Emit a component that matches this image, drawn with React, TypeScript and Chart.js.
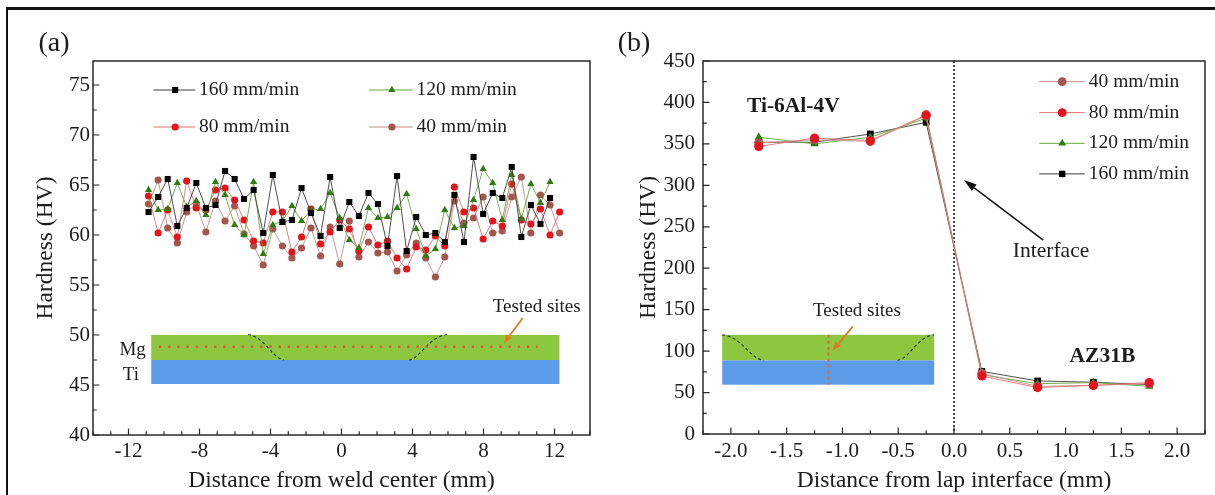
import React, { useEffect, useRef } from 'react';
import { Chart, registerables } from 'chart.js';
Chart.register(...registerables);

const FONT = "'Liberation Serif', 'Times New Roman', Times, serif";
const INK = '#1c1c1c';

// ---------- Panel (a): hardness along the weld ----------
const weldX = [-10.87, -10.33, -9.79, -9.25, -8.72, -8.18, -7.64, -7.10, -6.56, -6.02, -5.49, -4.95, -4.41, -3.87, -3.33, -2.79, -2.25, -1.72, -1.18, -0.64, -0.10, 0.44, 0.98, 1.52, 2.05, 2.59, 3.13, 3.67, 4.21, 4.75, 5.29, 5.82, 6.36, 6.90, 7.44, 7.98, 8.52, 9.06, 9.59, 10.13, 10.67, 11.21, 11.75, 12.29];
const hv160 = [62.3, 63.8, 65.6, 60.9, 62.7, 65.2, 62.7, 63.0, 66.4, 65.6, 63.6, 64.5, 60.2, 66.0, 61.3, 61.5, 64.7, 62.2, 59.9, 65.8, 60.7, 63.3, 61.9, 64.2, 63.1, 58.9, 65.9, 58.4, 61.8, 60.0, 60.2, 59.3, 64.0, 59.3, 67.8, 62.1, 64.2, 63.7, 66.8, 59.8, 63.0, 61.1, 63.7];
const hv120 = [64.5, 62.5, 62.6, 65.2, 62.8, 63.4, 62.0, 65.3, 64.0, 61.0, 60.0, 65.3, 58.1, 61.0, 61.4, 62.9, 61.4, 62.5, 62.6, 64.2, 61.7, 59.5, 58.7, 62.7, 61.7, 61.8, 62.7, 64.1, 60.6, 57.9, 58.6, 62.5, 60.7, 60.9, 63.5, 66.6, 65.2, 61.5, 66.0, 61.6, 65.1, 63.2, 65.3];
const hv80 = [63.9, 60.2, 62.5, 59.8, 65.4, 62.7, 62.5, 64.5, 64.7, 63.5, 61.5, 59.4, 59.2, 62.3, 62.3, 58.3, 59.8, 62.6, 59.1, 60.3, 61.5, 60.6, 58.4, 60.8, 59.0, 59.4, 57.7, 56.6, 58.8, 58.5, 59.9, 58.9, 64.8, 62.3, 62.7, 59.6, 61.4, 60.9, 65.1, 61.5, 61.1, 62.6, 60.0, 62.3];
const hv40 = [63.1, 65.5, 60.7, 59.2, 62.3, 63.1, 60.3, 63.4, 61.4, 62.9, 60.1, 58.9, 57.0, 60.6, 58.9, 57.7, 58.7, 60.7, 57.9, 60.8, 57.1, 61.4, 57.8, 59.3, 58.2, 58.3, 56.4, 58.0, 59.2, 57.7, 55.8, 57.8, 63.4, 61.2, 61.7, 63.8, 60.2, 60.4, 63.8, 65.8, 60.2, 64.0, 63.0, 60.2];
const weldXTicks = [-12, -8, -4, 0, 4, 8, 12];
const weldYTicks = [40, 45, 50, 55, 60, 65, 70, 75];

// ---------- Panel (b): hardness across the lap interface ----------
const lapX = [-1.75, -1.25, -0.75, -0.25, 0.25, 0.75, 1.25, 1.75];
const lap40 = [351, 355, 353, 384, 73, 57.5, 58.7, 60.7];
const lap80 = [347, 357, 354, 385, 70, 56, 58.7, 62];
const lap120 = [358, 350, 358, 381, 71.5, 60.7, 62, 57.5];
const lap160 = [352, 352, 362, 376, 75.5, 64, 62.5, 59.5];
const lapXTicks = [-2, -1.5, -1, -0.5, 0, 0.5, 1, 1.5, 2];
const lapYTicks = [0, 50, 100, 150, 200, 250, 300, 350, 400, 450];

// series styles
const ST = {
  s160: { label: '160 mm/min', line: '#3a3a3a', point: '#000000', style: 'rect' },
  s120: { label: '120 mm/min', line: '#62a83c', point: '#2f7d10', style: 'triangle' },
  s80: { label: '80 mm/min', line: '#e07070', point: '#e3141b', style: 'circle' },
  s40: { label: '40 mm/min', line: '#c08e88', point: '#a4564e', style: 'circle' },
};

function ds(st: any, xs: number[], ys: number[], r: number) {
  return {
    label: st.label,
    data: ys.map((y, i) => ({ x: xs[i], y })),
    borderColor: st.line,
    borderWidth: 0.9,
    backgroundColor: st.point,
    pointBackgroundColor: st.point,
    pointBorderColor: st.point,
    pointBorderWidth: 0,
    pointStyle: st.style,
    pointRadius: r,
    tension: 0,
  };
}

function marker(ctx: CanvasRenderingContext2D, style: string, x: number, y: number, r: number, color: string) {
  ctx.save();
  ctx.fillStyle = color;
  ctx.beginPath();
  if (style === 'rect') {
    const s = r * Math.SQRT1_2;
    ctx.rect(x - s, y - s, 2 * s, 2 * s);
  } else if (style === 'triangle') {
    let rad = 0;
    ctx.moveTo(x + Math.sin(rad) * r, y - Math.cos(rad) * r);
    rad += (2 * Math.PI) / 3;
    ctx.lineTo(x + Math.sin(rad) * r, y - Math.cos(rad) * r);
    rad += (2 * Math.PI) / 3;
    ctx.lineTo(x + Math.sin(rad) * r, y - Math.cos(rad) * r);
    ctx.closePath();
  } else {
    ctx.arc(x, y, r, 0, Math.PI * 2);
  }
  ctx.fill();
  ctx.restore();
}

function arrow(ctx: CanvasRenderingContext2D, x1: number, y1: number, x2: number, y2: number, color: string, lw: number, hl: number, hw: number) {
  const a = Math.atan2(y2 - y1, x2 - x1);
  const bx = x2 - hl * Math.cos(a);
  const by = y2 - hl * Math.sin(a);
  ctx.save();
  ctx.setLineDash([]);
  ctx.strokeStyle = color;
  ctx.fillStyle = color;
  ctx.lineWidth = lw;
  ctx.beginPath();
  ctx.moveTo(x1, y1);
  ctx.lineTo(bx, by);
  ctx.stroke();
  ctx.beginPath();
  ctx.moveTo(x2, y2);
  ctx.lineTo(bx + (hw / 2) * Math.sin(a), by - (hw / 2) * Math.cos(a));
  ctx.lineTo(bx - (hw / 2) * Math.sin(a), by + (hw / 2) * Math.cos(a));
  ctx.closePath();
  ctx.fill();
  ctx.restore();
}

function text(ctx: CanvasRenderingContext2D, s: string, x: number, y: number, size: number, align: CanvasTextAlign = 'center', bold = false) {
  ctx.save();
  ctx.fillStyle = INK;
  ctx.font = `${bold ? 'bold ' : ''}${size}px ${FONT}`;
  ctx.textAlign = align;
  ctx.textBaseline = 'middle';
  ctx.fillText(s, x, y);
  ctx.restore();
}

function frameAndTicks(chart: any, xr: [number, number, number, number], yr: [number, number, number, number]) {
  // xr: [min, max, minorStep, majorStep]
  const { ctx, chartArea: a, scales } = chart;
  ctx.save();
  ctx.strokeStyle = '#2a2a2a';
  ctx.lineWidth = 1.2;
  ctx.beginPath();
  const [x0, x1, xs, xm] = xr;
  for (let k = Math.ceil(x0 / xs - 1e-9); k * xs <= x1 + 1e-9; k++) {
    const v = k * xs;
    const major = Math.abs(v / xm - Math.round(v / xm)) < 1e-6;
    const p = scales.x.getPixelForValue(v);
    ctx.moveTo(p, a.bottom);
    ctx.lineTo(p, a.bottom - (major ? 6.5 : 3.8));
  }
  const [y0, y1, ys, ym] = yr;
  for (let k = Math.ceil(y0 / ys - 1e-9); k * ys <= y1 + 1e-9; k++) {
    const v = k * ys;
    const major = Math.abs(v / ym - Math.round(v / ym)) < 1e-6;
    const p = scales.y.getPixelForValue(v);
    ctx.moveTo(a.left, p);
    ctx.lineTo(a.left + (major ? 6.5 : 3.8), p);
  }
  ctx.stroke();
  ctx.lineWidth = 1.5;
  ctx.strokeRect(a.left, a.top, a.right - a.left, a.bottom - a.top);
  ctx.restore();
}

function legendRow(chart: any, st: any, xl1: number, xl2: number, xm: number, xt: number, yv: number, r: number) {
  const { ctx, scales } = chart;
  const X = (v: number) => scales.x.getPixelForValue(v);
  const y = scales.y.getPixelForValue(yv);
  ctx.save();
  ctx.strokeStyle = st.line;
  ctx.lineWidth = 1;
  ctx.beginPath();
  ctx.moveTo(X(xl1), y);
  ctx.lineTo(X(xl2), y);
  ctx.stroke();
  ctx.restore();
  marker(ctx, st.style, X(xm), y, r, st.point);
  text(ctx, st.label, X(xt), y, 19.5, 'left');
}

function baseScales(o: any) {
  return {
    x: {
      type: 'linear',
      min: o.xmin,
      max: o.xmax,
      afterBuildTicks: (ax: any) => { ax.ticks = o.xticks.map((v: number) => ({ value: v })); },
      afterFit: (ax: any) => { ax.height = o.xh; },
      grid: { display: false, drawTicks: false },
      border: { display: false },
      ticks: { padding: o.xpad, autoSkip: false, maxRotation: 0, color: INK, font: { family: FONT, size: 21 }, callback: o.xfmt },
      title: { display: true, text: o.xtitle, color: INK, font: { family: FONT, size: 23.5 }, padding: { top: 0, bottom: 0 } },
    },
    y: {
      type: 'linear',
      min: o.ymin,
      max: o.ymax,
      afterBuildTicks: (ax: any) => { ax.ticks = o.yticks.map((v: number) => ({ value: v })); },
      afterFit: (ax: any) => { ax.width = o.yw; },
      grid: { display: false, drawTicks: false },
      border: { display: false },
      ticks: { padding: o.ypad, autoSkip: false, color: INK, font: { family: FONT, size: 21 }, callback: (v: number) => String(v) },
      title: { display: true, text: 'Hardness (HV)', color: INK, font: { family: FONT, size: 23.5 }, padding: { top: o.ytpad, bottom: 0 } },
    },
  };
}

function makeA(canvas: HTMLCanvasElement) {
  const deco = {
    id: 'decoA',
    beforeDatasetsDraw(chart: any) {
      const { ctx, scales } = chart;
      const X = (v: number) => scales.x.getPixelForValue(v);
      const Y = (v: number) => scales.y.getPixelForValue(v);
      ctx.save();
      ctx.fillStyle = '#8dc63f';
      ctx.fillRect(X(-10.72), Y(50.0), X(12.28) - X(-10.72), Y(47.5) - Y(50.0));
      ctx.fillStyle = '#5b9be8';
      ctx.fillRect(X(-10.72), Y(47.5), X(12.28) - X(-10.72), Y(45.1) - Y(47.5));
      // dashed fusion boundaries
      ctx.strokeStyle = '#2f3d55';
      ctx.lineWidth = 1.2;
      ctx.setLineDash([3, 2.5]);
      ctx.beginPath();
      ctx.moveTo(X(-5.27), Y(50.05));
      ctx.bezierCurveTo(X(-4.3), Y(49.8), X(-3.9), Y(47.65), X(-3.25), Y(47.5));
      ctx.moveTo(X(3.8), Y(47.5));
      ctx.bezierCurveTo(X(4.45), Y(47.65), X(4.87), Y(49.8), X(5.94), Y(50.05));
      ctx.stroke();
      // tested sites
      ctx.strokeStyle = '#e8552d';
      ctx.lineWidth = 2.4;
      ctx.setLineDash([2.4, 6.8]);
      ctx.beginPath();
      ctx.moveTo(X(-10.29), Y(48.83));
      ctx.lineTo(X(11.06), Y(48.83));
      ctx.stroke();
      ctx.restore();
    },
    afterDraw(chart: any) {
      const { ctx, scales } = chart;
      const X = (v: number) => scales.x.getPixelForValue(v);
      const Y = (v: number) => scales.y.getPixelForValue(v);
      frameAndTicks(chart, [-14, 14, 1, 4], [40, 77.4, 2.5, 5]);
      text(ctx, 'Mg', X(-11.77), Y(48.5), 19);
      text(ctx, 'Ti', X(-11.87), Y(46.0), 19);
      text(ctx, 'Tested sites', X(11.0), Y(52.75), 19);
      arrow(ctx, X(10.21), Y(51.7), X(9.14), Y(49.15), '#e07b22', 1.8, 9, 7);
      legendRow(chart, ST.s160, -10.59, -8.24, -9.37, -8.03, 74.5, 4.3);
      legendRow(chart, ST.s120, 1.56, 4.02, 2.84, 4.23, 74.5, 4.2);
      legendRow(chart, ST.s80, -10.59, -8.24, -9.37, -8.03, 70.8, 3.6);
      legendRow(chart, ST.s40, 1.56, 4.02, 2.84, 4.23, 70.8, 3.6);
      text(ctx, '(a)', 54, 44, 28);
    },
  };
  return new Chart(canvas, {
    type: 'line',
    data: {
      datasets: [
        ds(ST.s160, weldX, hv160, 4.3),
        ds(ST.s120, weldX, hv120, 4.2),
        ds(ST.s80, weldX, hv80, 3.6),
        ds(ST.s40, weldX, hv40, 3.6),
      ],
    },
    options: {
      animation: false,
      responsive: false,
      maintainAspectRatio: false,
      layout: { padding: { left: 0, right: 10, top: 61, bottom: 0 } },
      plugins: { legend: { display: false }, tooltip: { enabled: false } },
      scales: baseScales({
        xmin: -14, xmax: 14, xticks: weldXTicks, xh: 60, xpad: 4,
        xfmt: (v: number) => String(v), xtitle: 'Distance from weld center (mm)',
        ymin: 40, ymax: 77.4, yticks: weldYTicks, yw: 93, ypad: 3, ytpad: 32,
      }) as any,
    },
    plugins: [deco],
  } as any);
}

function makeB(canvas: HTMLCanvasElement) {
  const deco = {
    id: 'decoB',
    beforeDatasetsDraw(chart: any) {
      const { ctx, scales, chartArea: a } = chart;
      const X = (v: number) => scales.x.getPixelForValue(v);
      const Y = (v: number) => scales.y.getPixelForValue(v);
      ctx.save();
      ctx.fillStyle = '#8dc63f';
      ctx.fillRect(X(-2.078), Y(119.7), X(-0.178) - X(-2.078), Y(88.8) - Y(119.7));
      ctx.fillStyle = '#5b9be8';
      ctx.fillRect(X(-2.078), Y(88.8), X(-0.178) - X(-2.078), Y(59.5) - Y(88.8));
      ctx.strokeStyle = '#2f3d55';
      ctx.lineWidth = 1.2;
      ctx.setLineDash([3, 2.5]);
      ctx.beginPath();
      ctx.moveTo(X(-2.078), Y(119.7));
      ctx.bezierCurveTo(X(-1.9), Y(117.5), X(-1.84), Y(91.5), X(-1.705), Y(88.8));
      ctx.moveTo(X(-0.508), Y(88.8));
      ctx.bezierCurveTo(X(-0.39), Y(91.5), X(-0.335), Y(117.5), X(-0.178), Y(119.7));
      ctx.stroke();
      ctx.strokeStyle = '#d8702c';
      ctx.lineWidth = 2;
      ctx.setLineDash([3, 3]);
      ctx.beginPath();
      ctx.moveTo(X(-1.126), Y(119.7));
      ctx.lineTo(X(-1.126), Y(59.5));
      ctx.stroke();
      // interface line
      ctx.strokeStyle = '#111';
      ctx.lineWidth = 1.5;
      ctx.setLineDash([2, 2]);
      ctx.beginPath();
      ctx.moveTo(X(0), a.top);
      ctx.lineTo(X(0), a.bottom);
      ctx.stroke();
      ctx.restore();
    },
    afterDraw(chart: any) {
      const { ctx, scales } = chart;
      const X = (v: number) => scales.x.getPixelForValue(v);
      const Y = (v: number) => scales.y.getPixelForValue(v);
      frameAndTicks(chart, [-2.25, 2.25, 0.25, 0.5], [0, 450, 25, 50]);
      text(ctx, 'Tested sites', X(-0.87), Y(148.6), 19);
      arrow(ctx, X(-0.906), Y(129.8), X(-1.09), Y(100.5), '#e07b22', 1.8, 9, 7);
      text(ctx, 'Ti-6Al-4V', X(-1.44), Y(395.7), 21.5, 'center', true);
      text(ctx, 'AZ31B', X(1.33), Y(93.6), 21.5, 'center', true);
      text(ctx, 'Interface', X(0.87), Y(220), 21.5);
      arrow(ctx, X(0.8), Y(234), X(0.089), Y(306.5), '#111', 1.5, 13, 8);
      legendRow(chart, ST.s40, 0.764, 1.172, 0.97, 1.208, 425.1, 4.4);
      legendRow(chart, ST.s80, 0.764, 1.172, 0.97, 1.208, 387.7, 4.4);
      legendRow(chart, ST.s120, 0.764, 1.172, 0.97, 1.208, 350.7, 4.6);
      legendRow(chart, ST.s160, 0.764, 1.172, 0.97, 1.208, 313.8, 4.5);
      text(ctx, '(b)', 34, 44, 28);
    },
  };
  return new Chart(canvas, {
    type: 'line',
    data: {
      datasets: [
        ds(ST.s80, lapX, lap80, 4.6),
        ds(ST.s40, lapX, lap40, 4.6),
        ds(ST.s120, lapX, lap120, 4.8),
        ds(ST.s160, lapX, lap160, 4.7),
      ],
    },
    options: {
      animation: false,
      responsive: false,
      maintainAspectRatio: false,
      layout: { padding: { left: 0, right: 10, top: 61, bottom: 0 } },
      plugins: { legend: { display: false }, tooltip: { enabled: false } },
      scales: baseScales({
        xmin: -2.25, xmax: 2.25, xticks: lapXTicks, xh: 61, xpad: 5,
        xfmt: (v: number) => v.toFixed(1), xtitle: 'Distance from lap interface (mm)',
        ymin: 0, ymax: 450, yticks: lapYTicks, yw: 103, ypad: 8, ytpad: 34.5,
      }) as any,
    },
    plugins: [deco],
  } as any);
}

export default function App() {
  const refA = useRef<HTMLCanvasElement>(null);
  const refB = useRef<HTMLCanvasElement>(null);
  useEffect(() => {
    Chart.defaults.font.family = FONT;
    const a = makeA(refA.current!);
    const b = makeB(refB.current!);
    return () => { a.destroy(); b.destroy(); };
  }, []);
  return (
    <div style={{ position: 'absolute', left: 0, top: 0, width: 1215, height: 495, overflow: 'hidden', background: '#fff' }}>
      <div style={{ position: 'absolute', left: 6, top: 7, width: 1400, height: 700, borderLeft: '2.5px solid #111', borderTop: '3px solid #111' }} />
      <canvas ref={refA} width={600} height={495} style={{ position: 'absolute', left: 0, top: 0 }} />
      <canvas ref={refB} width={615} height={495} style={{ position: 'absolute', left: 600, top: 0 }} />
    </div>
  );
}
